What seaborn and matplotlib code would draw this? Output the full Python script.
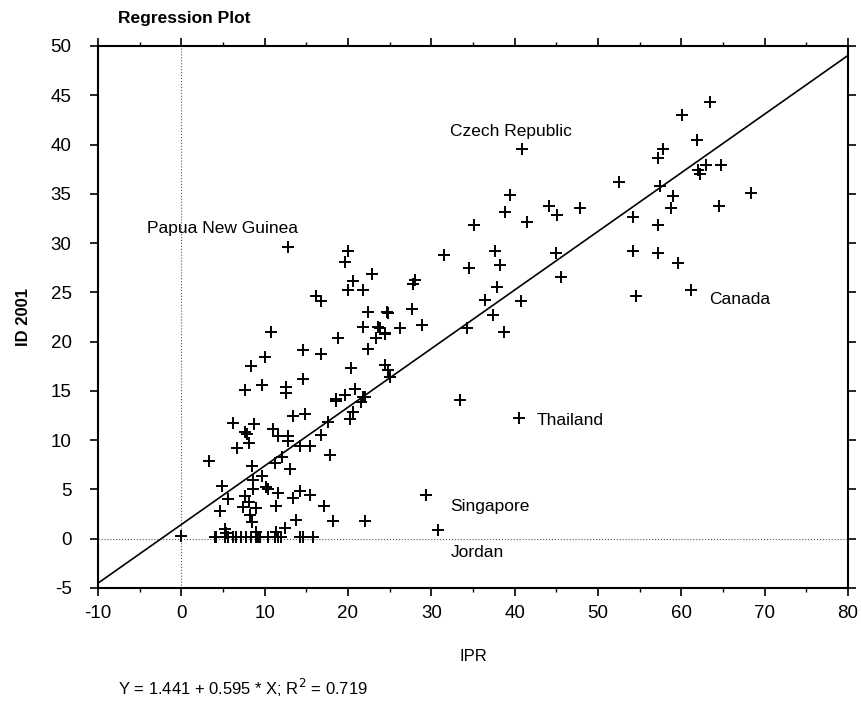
import numpy as np
import pandas as pd
import matplotlib
matplotlib.use("Agg")
import matplotlib.pyplot as plt
import seaborn as sns

# IPR (x) and ID 2001 (y)
ipr = [63.4, 60.1, 61.9, 57.8, 57.2, 40.9, 62.9, 64.7, 62.0, 62.3,
       52.5, 57.5, 68.4, 59.0, 58.8, 64.5, 39.4, 38.9, 44.1, 45.1,
       47.9, 54.2, 57.2, 35.1, 41.5, 31.5, 37.6, 34.5, 38.2, 44.9,
       54.2, 57.2, 59.6, 45.6, 37.9, 36.4, 40.8, 54.6, 61.1, 37.4,
       28.0, 27.8, 27.7, 24.8, 28.9, 26.3, 34.3, 23.8, 38.7, 24.4,
       24.5, 24.8, 25.0, 33.5, 40.5, 29.4, 30.8,
       12.8, 20.0, 19.6, 22.9, 20.6, 20.0, 21.8, 16.2, 16.8, 22.4,
       24.7, 21.8, 23.6, 23.3, 24.4, 10.8, 18.8, 22.4, 14.6, 16.8,
       10.0, 8.4, 20.4, 14.6, 9.7, 7.7, 12.6, 12.6, 20.8, 19.6,
       18.6, 21.8, 18.6, 22.0, 21.6, 20.6, 20.2, 13.4, 14.8, 6.2,
       8.7, 7.7, 7.9, 11.0, 11.6, 12.8, 12.8, 8.1, 6.7, 17.6,
       16.8, 14.2, 15.4, 17.8, 3.3, 8.5, 11.2, 12.1, 13.0, 9.7,
       8.6, 10.2, 10.4, 4.9, 8.6, 11.6, 13.4, 14.2, 15.4, 5.6,
       7.7, 8.1, 7.4, 9.0, 11.4, 17.1, 4.6, 8.3, 13.8, 18.2,
       22.0, 8.5, 12.4, 5.2, 11.4, 5.4, 9.0,
       0.0, 4.0, 4.2, 5.2, 5.6, 6.2, 6.6, 7.2, 7.8, 8.4,
       9.0, 9.2, 9.4, 10.4, 11.2, 11.6, 12.0, 14.2, 14.6, 15.8]
id2001 = [44.3, 43.0, 40.5, 39.5, 38.6, 39.5, 37.9, 37.9, 37.4, 37.0,
          36.2, 35.8, 35.1, 34.8, 33.6, 33.8, 34.9, 33.2, 33.8, 32.9,
          33.6, 32.6, 31.8, 31.8, 32.1, 28.8, 29.2, 27.5, 27.8, 29.0,
          29.2, 29.0, 28.0, 26.6, 25.5, 24.2, 24.1, 24.6, 25.2, 22.7,
          26.3, 25.8, 23.3, 22.9, 21.7, 21.4, 21.4, 21.4, 21.0, 20.9,
          17.6, 17.1, 16.4, 14.1, 12.3, 4.4, 0.9,
          29.6, 29.2, 28.1, 26.9, 26.2, 25.2, 25.2, 24.6, 24.1, 23.0,
          23.0, 21.5, 21.5, 20.4, 20.8, 21.0, 20.4, 19.3, 19.2, 18.7,
          18.4, 17.5, 17.3, 16.2, 15.6, 15.1, 15.4, 14.8, 15.2, 14.6,
          14.2, 14.4, 14.0, 14.4, 13.9, 12.9, 12.1, 12.5, 12.7, 11.7,
          11.6, 10.8, 10.6, 11.1, 10.4, 10.4, 9.9, 9.7, 9.2, 11.8,
          10.5, 9.4, 9.4, 8.5, 7.9, 7.4, 7.7, 8.3, 7.1, 6.4,
          6.0, 5.2, 5.0, 5.4, 5.0, 4.6, 4.1, 4.8, 4.4, 4.0,
          4.3, 3.7, 3.2, 3.1, 3.3, 3.3, 2.8, 2.4, 1.9, 1.8,
          1.8, 1.7, 1.1, 1.0, 0.7, 0.6, 0.7,
          0.3, 0.2, 0.2, 0.2, 0.2, 0.2, 0.2, 0.2, 0.2, 0.2,
          0.2, 0.2, 0.2, 0.2, 0.2, 0.2, 0.2, 0.2, 0.2, 0.2]

intercept = 1.441
slope = 0.595
line_x = [-10, 80]

labels = ["Papua New Guinea", "Czech Republic", "Canada", "Thailand", "Singapore", "Jordan"]
label_x = [-4.1, 32.3, 63.3, 42.6, 32.3, 32.3]
label_y = [31.5, 41.3, 24.3, 12.0, 3.25, -1.4]

df = pd.DataFrame({"IPR": ipr, "ID 2001": id2001})
fit = pd.DataFrame({"IPR": line_x, "ID 2001": [intercept + slope * v for v in line_x]})

sns.set_style("ticks")
plt.rcParams['font.family'] = ['Liberation Sans', 'DejaVu Sans']
plt.rcParams['axes.unicode_minus'] = False
plt.rcParams['text.color'] = 'black'
plt.rcParams['axes.labelcolor'] = 'black'
plt.rcParams['xtick.color'] = 'black'
plt.rcParams['ytick.color'] = 'black'
plt.rcParams['axes.edgecolor'] = 'black'

fig = plt.figure(figsize=(8.62, 7.01), dpi=100)
ax = fig.add_axes([98 / 862, 1 - 588 / 701, 750 / 862, 542 / 701])

ax.axvline(0, color="#555555", lw=0.8, ls=":", zorder=1)
ax.axhline(0, color="#555555", lw=0.8, ls=":", zorder=1)
sns.lineplot(data=fit, x="IPR", y="ID 2001", color="black", lw=1.2, ax=ax, zorder=2)
sns.scatterplot(data=df, x="IPR", y="ID 2001", marker="+", s=70, color="black",
                linewidth=1.4, ax=ax, zorder=3)

for t, lx, ly in zip(labels, label_x, label_y):
    ax.text(lx, ly, t, fontsize=12.5, va="center", ha="left")

ax.set_xlim(-10, 80)
ax.set_ylim(-5, 50)
ax.set_xticks(np.arange(-10, 81, 10))
ax.set_xticks(np.arange(-10, 81, 5), minor=True)
ax.set_yticks(np.arange(-5, 51, 5))
ax.tick_params(axis="both", which="major", labelsize=13.5, length=6, width=1.2, direction="out",
               top=True, right=True)
ax.tick_params(axis="y", which="major", pad=13)
ax.tick_params(axis="x", which="major", pad=6)
ax.tick_params(axis="both", which="minor", length=3, width=1, direction="out", top=True)
for s in ax.spines.values():
    s.set_linewidth(1.5)
    s.set_visible(True)

ax.set_xlabel("IPR", fontsize=12, labelpad=20)
ax.set_ylabel("ID 2001", fontsize=12, fontweight="bold", labelpad=14)
fig.text(118 / 862, 1 - 18 / 701, "Regression Plot", fontsize=12.5, fontweight="bold",
         va="center", ha="left")
fig.text(118 / 862, 1 - 688 / 701, "Y = 1.441 + 0.595 * X; R$^2$ = 0.719", fontsize=12,
         va="center", ha="left")

fig.savefig("out.png", dpi=100)
